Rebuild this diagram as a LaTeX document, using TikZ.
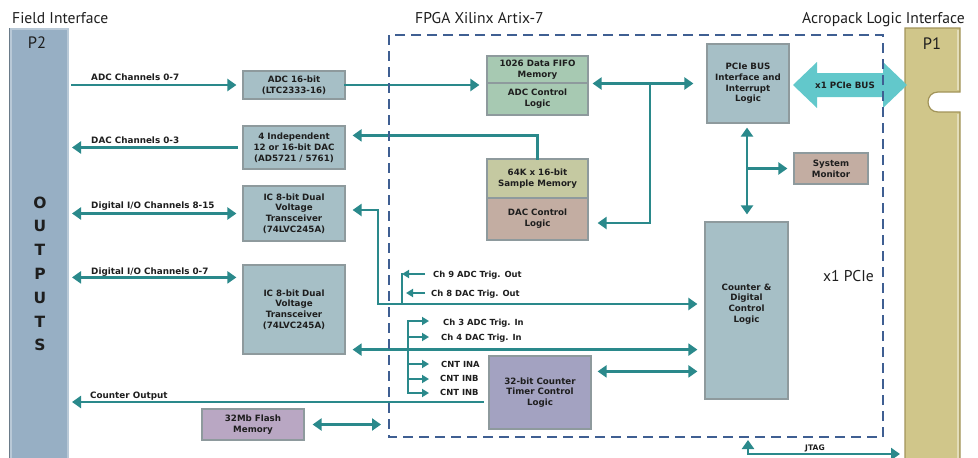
\documentclass[tikz,border=0pt]{standalone}
\usepackage{fontspec}
\setmainfont{DejaVu Sans}
\newfontfamily\titlefont{PT Sans}
\usetikzlibrary{arrows.meta,calc}

\definecolor{wire}{HTML}{2A898B}
\definecolor{padblue}{HTML}{97AFC4}
\definecolor{padrim}{HTML}{B9C9D7}
\definecolor{chipblue}{HTML}{A6BFC6}
\definecolor{fifogreen}{HTML}{A7C9B2}
\definecolor{memolive}{HTML}{C5C9A1}
\definecolor{ctlrose}{HTML}{C3ADA2}
\definecolor{ctrlav}{HTML}{A3A2C1}
\definecolor{flashlav}{HTML}{B9A7C3}
\definecolor{padgold}{HTML}{D0C68A}
\definecolor{padgoldedge}{HTML}{A2945A}
\definecolor{busaqua}{HTML}{62C8CB}
\definecolor{fpgadash}{HTML}{3F5F92}
\definecolor{boxedge}{HTML}{8E9A9D}
\definecolor{ink}{HTML}{1E1E1E}

\begin{document}
\begin{tikzpicture}[x=1pt,y=-1pt,
  block/.style={draw=boxedge, line width=1.2pt, align=center, inner sep=0pt,
    text=ink, font=\bfseries\fontsize{8.7}{10.8}\selectfont},
  boxtext/.style={align=center, inner sep=0pt, text=ink,
    font=\bfseries\fontsize{8.7}{10.8}\selectfont},
  chan/.style={anchor=base west, inner sep=0pt, text=ink,
    font=\bfseries\fontsize{8.8}{10}\selectfont},
  sig/.style={anchor=base west, inner sep=0pt, text=ink,
    font=\bfseries\fontsize{8.4}{10}\selectfont},
  title/.style={anchor=base west, inner sep=0pt, text=ink,
    font=\titlefont\fontsize{15.6}{18}\selectfont},
  padlabel/.style={anchor=base, inner sep=0pt, text=ink,
    font=\titlefont\fontsize{16.5}{18}\selectfont},
  outletter/.style={anchor=base, inner sep=0pt, text=ink,
    font=\bfseries\fontsize{15.5}{18}\selectfont},
  wireline/.style={draw=wire, line width=2.8pt, line cap=rect, line join=miter},
  wirearr/.style={wireline, -{Triangle[length=9pt,width=12pt]}},
  biwire/.style={wireline, {Triangle[length=9pt,width=12pt]}-{Triangle[length=9pt,width=12pt]}},
  tapline/.style={draw=wire, line width=2pt, line cap=rect},
  tap/.style={draw=wire, line width=2pt, -{Triangle[length=7pt,width=8pt]}},
]
\useasboundingbox (0,0) rectangle (978,458);

% ---------- titles ----------
\node[title] (tField) at (12,23) {Field Interface};
\node[title] (tFpga) at (415,23) {FPGA Xilinx Artix-7};
\node[title] (tAcro) at (802,23) {Acropack Logic Interface};

% ---------- P2 connector ----------
\node[draw=padrim, fill=padblue, line width=1.6pt, minimum width=57pt,
  minimum height=434pt, anchor=north west, inner sep=0pt] (p2) at (10,28) {};
\draw[draw=padblue!70!black, line width=0.8pt] (9,28) -- (9,460);
\node[padlabel] (p2name) at (37,48) {P2};
\foreach \ch [count=\k] in {O,U,T,P,U,T,S}
  \node[outletter] (out\k) at (40,{208+23.8*(\k-1)}) {\ch};

% ---------- P1 connector with key notch ----------
\draw[fill=padgold, draw=padgoldedge, line width=1.2pt]
  (905,28) -- (960,28) -- (960,92) -- (938,92)
  .. controls (924.7,92) and (924.7,112) .. (938,112)
  -- (960,112) -- (960,462) -- (905,462) -- cycle;
\draw[draw=padgold!60!white, line width=1.2pt] (958,30) -- (958,90);
\draw[draw=padgold!60!white, line width=1.2pt] (958,114) -- (958,460);
\node[padlabel] (p1name) at (932,49) {P1};
\coordinate (p1jtag) at (905,454);

% ---------- field side devices ----------
\node[block, fill=chipblue, minimum width=102pt, minimum height=28pt] (adc) at (294,85)
  {ADC 16-bit\\(LTC2333-16)};
\node[block, fill=chipblue, minimum width=102pt, minimum height=43pt] (dac) at (294,147.5)
  {4 Independent\\12 or 16-bit DAC\\(AD5721 / 5761)};
\node[block, fill=chipblue, minimum width=102pt, minimum height=55pt] (io1) at (294,213.5)
  {IC 8-bit Dual\\Voltage\\Transceiver\\(74LVC245A)};
\node[block, fill=chipblue, minimum width=102pt, minimum height=89pt] (io2) at (294,309.5)
  {IC 8-bit Dual\\Voltage\\Transceiver\\(74LVC245A)};
\node[block, fill=flashlav, minimum width=102pt, minimum height=31pt] (flash) at (253,424.5)
  {32Mb Flash\\Memory};

% ---------- FPGA blocks ----------
\node[block, fill=fifogreen, minimum width=101pt, minimum height=27pt] (fifo) at (537.5,69.5)
  {1026 Data FIFO\\Memory};
\node[block, fill=fifogreen, minimum width=101pt, minimum height=32pt] (adcctl) at (537.5,99)
  {ADC Control\\Logic};
\node[block, fill=memolive, minimum width=101pt, minimum height=39pt] (smem) at (537.5,178.5)
  {64K x 16-bit\\Sample Memory};
\node[block, fill=ctlrose, minimum width=101pt, minimum height=42pt] (dacctl) at (537.5,219)
  {DAC Control\\Logic};
\node[block, fill=chipblue, minimum width=82pt, minimum height=79pt] (pcie) at (748,83.5)
  {PCIe BUS\\Interface and\\Interrupt\\Logic};
\node[block, fill=ctlrose, minimum width=74pt, minimum height=31pt] (sysmon) at (831,168.5)
  {System\\Monitor};
\node[block, fill=chipblue, minimum width=83pt, minimum height=177pt] (cdl) at (746.5,310.5) {};
\node[boxtext] (cdltext) at (746.5,304) {Counter \&\\Digital\\Control\\Logic};
\node[block, fill=ctrlav, minimum width=102pt, minimum height=73pt] (ctr) at (540,392.5)
  {32-bit Counter\\Timer Control\\Logic};

% ---------- x1 PCIe bus arrow ----------
\fill[busaqua] (793,85) -- (817,62) -- (817,73) -- (883,73) -- (883,62) -- (907,85)
  -- (883,108) -- (883,97) -- (817,97) -- (817,108) -- cycle;
\node[boxtext] (busname) at (845,85) {x1 PCIe BUS};
\node[title] (tx1) at (823,281) {x1 PCIe};

% ---------- field channel wires ----------
\coordinate (p2r) at (72,0);
\draw[wirearr, shorten >=6pt] (p2r |- adc.west) -- (adc.west);
\node[chan] (lAdc) at (91,80) {ADC Channels 0-7};
\draw[wirearr, shorten <=6pt] (dac.west) -- (p2r |- dac.west);
\node[chan] (lDac) at (91,143) {DAC Channels 0-3};
\draw[biwire, shorten >=6pt] (p2r |- io1.west) -- (io1.west);
\node[chan] (lIo1) at (91,208) {Digital I/O Channels 8-15};
\coordinate (io2a) at ($(io2.north west)+(0,13)$);
\draw[biwire, shorten >=6pt] (p2r |- io2a) -- (io2a);
\node[chan] (lIo2) at (91,274) {Digital I/O Channels 0-7};
\coordinate (cntout) at ($(ctr.west)+(0,9.5)$);
\draw[wirearr, shorten <=6pt] (cntout) -- (p2r |- cntout);
\node[chan] (lCnt) at (90,398) {Counter Output};
\coordinate (flashbus) at (381,424.5);
\draw[biwire, shorten <=8pt] (flash.east) -- (flashbus);

% ---------- FPGA internal wires ----------
\draw[wirearr, shorten >=7pt] (adc.east) -- (adc.east -| fifo.west);
\coordinate (bus) at (650,83.5);
\coordinate (busb) at (650,223);
\draw[wirearr, shorten >=13pt] (bus) -- (bus -| pcie.west);
\draw[wirearr, shorten >=4pt] (bus) -- (bus -| fifo.east);
\draw[wirearr, shorten >=9pt] (bus) -- (busb) -- (busb -| dacctl.east);
\coordinate (dacin) at ($(dac.north east)+(0,10)$);
\draw[wirearr, shorten >=7pt] (smem.north) |- (dacin);

\coordinate (io1in) at ($(io1.east)+(0,-3.5)$);
\coordinate (iobend) at (378,304);
\draw[biwire, shorten <=7pt, shorten >=7pt] (io1in) -| (iobend) -- (iobend -| cdl.west);

% trigger outputs
\coordinate (trigjoin) at (402,304);
\coordinate (trig9) at (402,274);
\coordinate (t9) at (425,274);
\coordinate (t8) at (425,293);
\coordinate (t8tip) at (406,293);
\draw[tapline] (trigjoin) -- (trig9);
\draw[tap] (t9) -- (trig9);
\draw[tap] (t8) -- (t8tip);
\node[sig] (l9) at (433,277.5) {Ch 9 ADC Trig. Out};
\node[sig] (l8) at (431,296.5) {Ch 8 DAC Trig. Out};

% trigger and counter inputs
\coordinate (tinTop) at (408,321);
\coordinate (tinBot) at (408,393);
\draw[tapline] (tinTop) -- (tinBot);
\foreach \yy [count=\k] in {321,337,364,379,393} {
  \coordinate (tin\k) at (408,\yy);
  \coordinate (tout\k) at (429,\yy);
  \draw[tap] (tin\k) -- (tout\k);
}
\node[sig] (l3) at (443,325) {Ch 3 ADC Trig. In};
\node[sig] (l4) at (441,340) {Ch 4 DAC Trig. In};
\node[sig] (lina) at (441,367.5) {CNT INA};
\node[sig] (linb) at (440,381.5) {CNT INB};
\node[sig] (linb2) at (440,395) {CNT INB};

\coordinate (io2b) at ($(io2.south east)+(0,-5)$);
\draw[biwire, shorten <=7pt, shorten >=7pt] (io2b) -- (io2b -| cdl.west);
\coordinate (ctrb) at ($(ctr.north east)+(0,16)$);
\draw[biwire, shorten <=6pt, shorten >=7pt] (ctrb) -- (ctrb -| cdl.west);

% PCIe interface to logic and monitor
\coordinate (pv) at (747,0);
\draw[biwire, shorten <=4pt, shorten >=7pt] (pv |- pcie.south) -- (pv |- cdl.north);
\coordinate (smtap) at (747,168.5);
\draw[wirearr, shorten >=6pt] (smtap) -- (sysmon.west);

% JTAG
\coordinate (jtagup) at (748,437);
\coordinate (jtagrun) at (748,454);
\draw[biwire, shorten <=3pt, shorten >=5pt] (jtagup) -- (jtagrun) -- (p1jtag);
\node[sig, font=\bfseries\fontsize{7.6}{9}\selectfont] (ljtag) at (805,450) {JTAG};

% ---------- FPGA boundary ----------
\draw[draw=fpgadash, line width=2pt, dash pattern=on 10pt off 6pt]
  (389,35) rectangle (883,437);
\end{tikzpicture}
\end{document}
